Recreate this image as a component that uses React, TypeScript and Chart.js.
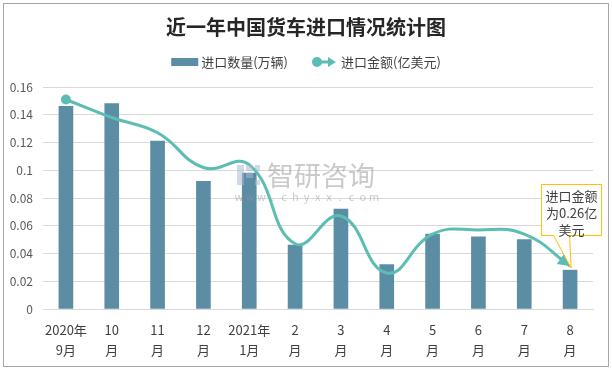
import React, { useEffect, useRef } from "react";
import { Chart, registerables } from "chart.js";

Chart.register(...registerables);

const title = "近一年中国货车进口情况统计图";
const seriesNames = ["进口数量(万辆)", "进口金额(亿美元)"];
const categories = [
  ["2020年", "9月"],
  ["10", "月"],
  ["11", "月"],
  ["12", "月"],
  ["2021年", "1月"],
  ["2", "月"],
  ["3", "月"],
  ["4", "月"],
  ["5", "月"],
  ["6", "月"],
  ["7", "月"],
  ["8", "月"],
];
const quantity = [0.146, 0.148, 0.121, 0.092, 0.098, 0.046, 0.072, 0.032, 0.054, 0.052, 0.05, 0.028];
const amount = [0.151, 0.138, 0.127, 0.102, 0.104, 0.047, 0.067, 0.026, 0.054, 0.057, 0.054, 0.031];
const yTicks = [0, 0.02, 0.04, 0.06, 0.08, 0.1, 0.12, 0.14, 0.16];
const calloutLines = ["进口金额", "为0.26亿", "美元"];
const watermarkText = "智研咨询";
const watermarkUrl = "www.chyxx.com";

const FONT = '"Noto Sans CJK SC", "Noto Sans", sans-serif';
const BAR = "#5b8da4";
const LINE = "#5cbdb4";
const TEXT = "#404040";

const decor = {
  id: "decor",
  beforeDraw(chart: any) {
    const ctx = chart.ctx;
    ctx.save();
    ctx.fillStyle = "#ffffff";
    ctx.fillRect(0, 0, chart.width, chart.height);
    ctx.strokeStyle = "#a6a6a6";
    ctx.lineWidth = 1;
    ctx.strokeRect(3.5, 3.5, chart.width - 7, chart.height - 7);
    ctx.restore();
  },
  afterDatasetsDraw(chart: any) {
    const ctx = chart.ctx;
    ctx.save();
    // watermark
    const wx = 237;
    const wy = 165;
    ctx.fillStyle = "rgba(170,185,210,0.55)";
    ctx.fillRect(wx, wy, 7, 20);
    ctx.fillRect(wx + 9, wy, 7, 6);
    ctx.fillRect(wx + 9, wy + 8, 7, 5);
    ctx.fillRect(wx + 18, wy, 5, 6);
    ctx.fillRect(wx + 18, wy + 15, 5, 5);
    ctx.fillStyle = "rgba(150,150,150,0.5)";
    ctx.font = `27px ${FONT}`;
    ctx.textBaseline = "middle";
    ctx.textAlign = "left";
    ctx.fillText(watermarkText, 267, 176);
    ctx.font = `11px ${FONT}`;
    ctx.textAlign = "center";
    const chars = watermarkUrl.split("");
    const step = (374 - 239) / (chars.length - 1);
    chars.forEach((c, i) => ctx.fillText(c, 239 + i * step, 197));

    // arrowhead at end of line
    const meta = chart.getDatasetMeta(1);
    const pts = meta.data;
    const last = pts[pts.length - 1];
    const px = last.x;
    const py = last.y;
    const cx = last.cp1x ?? pts[pts.length - 2].x;
    const cy = last.cp1y ?? pts[pts.length - 2].y;
    const ang = Math.atan2(py - cy, px - cx);
    const L = 12;
    const W = 6;
    ctx.fillStyle = LINE;
    ctx.beginPath();
    ctx.moveTo(px, py);
    ctx.lineTo(px - L * Math.cos(ang) + W * Math.sin(ang), py - L * Math.sin(ang) - W * Math.cos(ang));
    ctx.lineTo(px - L * Math.cos(ang) - W * Math.sin(ang), py - L * Math.sin(ang) + W * Math.cos(ang));
    ctx.closePath();
    ctx.fill();

    // callout
    const tipX = px + 1;
    const tipY = py + 2;
    const left = tipX - 29.5;
    const right = tipX + 30.5;
    const top = tipY - 83.5;
    const bottom = tipY - 32.5;
    ctx.beginPath();
    ctx.moveTo(left, top);
    ctx.lineTo(right, top);
    ctx.lineTo(right, bottom);
    ctx.lineTo(tipX - 1.5, bottom);
    ctx.lineTo(tipX, tipY);
    ctx.lineTo(tipX - 17.5, bottom);
    ctx.lineTo(left, bottom);
    ctx.closePath();
    ctx.fillStyle = "#ffffff";
    ctx.fill();
    ctx.strokeStyle = "#ffc000";
    ctx.lineWidth = 1;
    ctx.stroke();
    ctx.fillStyle = TEXT;
    ctx.font = `13px ${FONT}`;
    ctx.textAlign = "center";
    ctx.textBaseline = "middle";
    const mid = (left + right) / 2;
    calloutLines.forEach((t, i) => ctx.fillText(t, mid, top + 11.5 + i * 17));
    ctx.restore();
  },
  afterDraw(chart: any) {
    const ctx = chart.ctx;
    ctx.save();
    const cxm = chart.width / 2;
    ctx.fillStyle = "#262626";
    ctx.font = `bold 20px ${FONT}`;
    ctx.textAlign = "center";
    ctx.textBaseline = "middle";
    ctx.fillText(title, cxm, 27);

    // legend
    ctx.font = `13px ${FONT}`;
    ctx.textAlign = "left";
    const w1 = ctx.measureText(seriesNames[0]).width;
    const w2 = ctx.measureText(seriesNames[1]).width;
    const sw1 = 27;
    const sw2 = 24;
    const gap = 24;
    const total = sw1 + 3 + w1 + gap + sw2 + 5 + w2;
    let x = cxm - total / 2;
    const ly = 62;
    ctx.fillStyle = BAR;
    ctx.fillRect(x, ly - 4, sw1, 8);
    x += sw1 + 3;
    ctx.fillStyle = TEXT;
    ctx.fillText(seriesNames[0], x, ly);
    x += w1 + gap;
    ctx.fillStyle = LINE;
    ctx.strokeStyle = LINE;
    ctx.beginPath();
    ctx.arc(x + 5, ly, 5, 0, Math.PI * 2);
    ctx.fill();
    ctx.lineWidth = 3;
    ctx.beginPath();
    ctx.moveTo(x + 5, ly);
    ctx.lineTo(x + sw2 - 6, ly);
    ctx.stroke();
    ctx.beginPath();
    ctx.moveTo(x + sw2, ly);
    ctx.lineTo(x + sw2 - 8, ly - 5);
    ctx.lineTo(x + sw2 - 8, ly + 5);
    ctx.closePath();
    ctx.fill();
    x += sw2 + 5;
    ctx.fillStyle = TEXT;
    ctx.fillText(seriesNames[1], x, ly);
    ctx.restore();
  },
};

export default function App() {
  const ref = useRef<HTMLCanvasElement | null>(null);
  useEffect(() => {
    if (!ref.current) return;
    const chart = new Chart(ref.current, {
      data: {
        labels: categories,
        datasets: [
          {
            type: "bar",
            label: seriesNames[0],
            data: quantity,
            backgroundColor: BAR,
            barThickness: 14,
            order: 2,
          },
          {
            type: "line",
            label: seriesNames[1],
            data: amount,
            borderColor: LINE,
            backgroundColor: LINE,
            borderWidth: 3,
            tension: 0.45,
            pointRadius: amount.map((_, i) => (i === 0 ? 5 : 0)),
            pointBorderWidth: 0,
            pointBackgroundColor: LINE,
            order: 1,
          },
        ],
      } as any,
      options: {
        responsive: false,
        animation: false,
        devicePixelRatio: 1,
        layout: { padding: { top: 87, right: 19, left: 0, bottom: 0 } },
        plugins: {
          legend: { display: false },
          title: { display: false },
          tooltip: { enabled: false },
        },
        scales: {
          x: {
            grid: { display: false, drawTicks: false },
            border: { color: "#d9d9d9" },
            ticks: {
              color: TEXT,
              font: { family: FONT, size: 13, lineHeight: "20px" },
              padding: 11,
              maxRotation: 0,
              autoSkip: false,
            },
            afterFit: (s: any) => {
              s.height = 61;
            },
          },
          y: {
            min: 0,
            max: 0.16,
            grid: { color: "#d9d9d9", drawTicks: false },
            border: { display: false },
            afterBuildTicks: (s: any) => {
              s.ticks = yTicks.map((v) => ({ value: v }));
            },
            ticks: {
              color: "#595959",
              font: { family: FONT, size: 12 },
              padding: 10,
              callback: (v: any) => String(Number(Number(v).toFixed(2))),
            },
            afterFit: (s: any) => {
              s.width = 43;
            },
          },
        },
      },
      plugins: [decor],
    });
    return () => chart.destroy();
  }, []);
  return (
    <div style={{ position: "absolute", left: 0, top: 0, width: 612, height: 370 }}>
      <canvas ref={ref} width={612} height={370} style={{ width: 612, height: 370, display: "block" }} />
    </div>
  );
}
